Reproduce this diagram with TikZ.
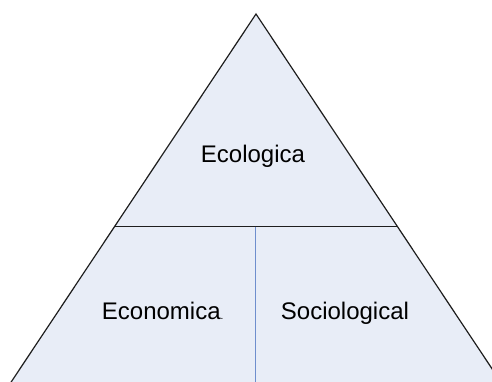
\documentclass[tikz,border=0pt]{standalone}
\usepackage{fontspec}
\setmainfont{Liberation Sans}
\definecolor{pyrfill}{RGB}{232,237,247}
\definecolor{divline}{RGB}{110,142,205}
\definecolor{edgeline}{RGB}{30,30,30}
\begin{document}
\begin{tikzpicture}[x=0.5pt,y=-0.5pt,
  lbl/.style={anchor=base west,inner sep=0pt,font=\fontsize{12}{14}\selectfont},
  edge/.style={draw=edgeline,line width=0.6pt}]
\useasboundingbox (0,0) rectangle (492,381);
\clip (0,0) rectangle (492,381);
\coordinate (apex) at (256,14);
\coordinate (bl) at (0.5,398);
\coordinate (br) at (511.5,398);
\coordinate (hl) at (115,226.5);
\coordinate (hr) at (397,226.5);
\coordinate (vt) at (255.7,226.5);
\coordinate (vb) at (255.7,400);
\fill[pyrfill] (apex) -- (br) -- (bl) -- cycle;
\draw[edge] (bl) -- (apex) -- (br);
\draw[edge] (hl) -- (hr);
\draw[divline,line width=0.6pt] (vt) -- (vb);
\node[lbl] (eco) at (200.5,162) {Ecologica};
\node[lbl] (econ) at (101.5,319) {Economica{\fontsize{5}{6}\selectfont.}};
\node[lbl] (soc) at (280.5,319) {Sociological};
\end{tikzpicture}
\end{document}
